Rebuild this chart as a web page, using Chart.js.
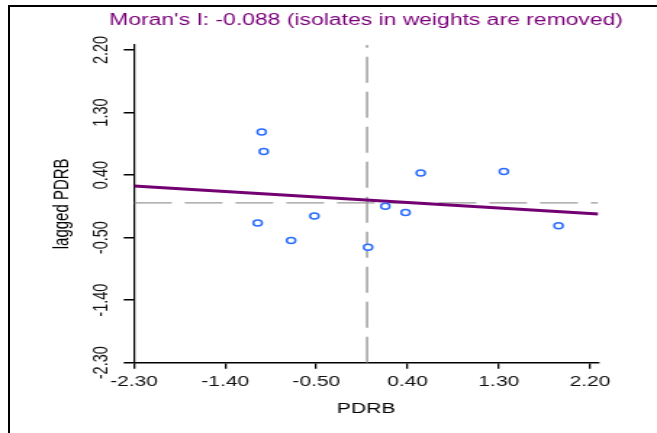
<!DOCTYPE html>
<html>
<head>
<meta charset="utf-8">
<script src="https://cdn.jsdelivr.net/npm/chart.js@4.4.1/dist/chart.umd.min.js"></script>
<style>
html,body{margin:0;padding:0;background:#fff;overflow:hidden;width:657px;height:433px;}
#frame{position:absolute;left:8px;top:5px;width:660px;height:440px;border-left:2px solid #000;border-top:2px solid #000;}
#c{position:absolute;left:0;top:0;width:657px;height:433px;}
</style>
</head>
<body>
<div id="frame"></div>
<canvas id="c" width="453" height="433" style="width:657px;height:433px"></canvas>
<script>
// ---- data (standardized PDRB vs. spatially lagged PDRB) ----
const moranI = -0.088;
const lagIntercept = 0.04;
const pdrb       = [-1.04, -1.02, -1.08, -0.75, -0.52, 0.01, 0.18, 0.38, 0.53, 1.35, 1.89];
const laggedPdrb = [ 1.02,  0.74, -0.29, -0.54, -0.19, -0.64, -0.05, -0.14, 0.43, 0.45, -0.33];
const xTicks = [-2.3, -1.4, -0.5, 0.4, 1.3, 2.2];
const yTicks = [-2.3, -1.4, -0.5, 0.4, 1.3, 2.2];
const xRange = [-2.3, 2.282];
const yRange = [-2.3, 2.272];
const meanPdrb = 0;
const meanLag = 0;
const xLabel = 'PDRB';
const yLabel = 'lagged PDRB';
const titleText = "Moran's I: " + moranI.toFixed(3) + " (isolates in weights are removed)";

const FONT = '"Liberation Sans", Arial, sans-serif';

const points = pdrb.map((x, i) => ({x: x, y: laggedPdrb[i]}));
const fitLine = xRange.map(x => ({x: x, y: lagIntercept + moranI * x}));
const hMean = xRange.map(x => ({x: x, y: meanLag}));
const vMean = yRange.map(y => ({x: meanPdrb, y: y}));

const titlePlugin = {
  id: 'moranTitle',
  afterDraw(chart) {
    const {ctx, chartArea} = chart;
    ctx.save();
    ctx.font = '15.8px ' + FONT;
    ctx.fillStyle = '#7a007a';
    ctx.textAlign = 'center';
    ctx.textBaseline = 'middle';
    ctx.fillText(titleText, (chartArea.left + chartArea.right) / 2, 20.8);
    ctx.restore();
  }
};

new Chart(document.getElementById('c'), {
  type: 'scatter',
  data: {
    datasets: [
      {
        type: 'scatter', data: points, order: 0,
        pointStyle: 'circle', pointRadius: 3, pointHoverRadius: 3,
        borderColor: '#2a6cff', backgroundColor: '#ffffff', borderWidth: 1.5
      },
      {
        type: 'line', data: fitLine, order: 1,
        borderColor: '#720072', borderWidth: 3, pointRadius: 0, fill: false, tension: 0
      },
      {
        type: 'line', data: vMean, order: 2,
        borderColor: '#999999', borderWidth: 1.4, borderDash: [26, 9], pointRadius: 0, fill: false
      },
      {
        type: 'line', data: hMean, order: 3,
        borderColor: '#999999', borderWidth: 1.4, borderDash: [26, 9], pointRadius: 0, fill: false
      }
    ]
  },
  options: {
    responsive: false,
    devicePixelRatio: 1,
    animation: false,
    events: [],
    layout: { padding: { top: 45, right: 40.5, bottom: 0, left: 0 } },
    plugins: { legend: { display: false }, tooltip: { enabled: false }, title: { display: false } },
    scales: {
      x: {
        type: 'linear', min: xRange[0], max: xRange[1],
        afterBuildTicks: s => { s.ticks = xTicks.map(v => ({value: v})); },
        afterFit: s => { s.height = 70.3; },
        grid: { display: true, drawOnChartArea: false, drawTicks: true, tickLength: 6, color: '#000', lineWidth: 1.3 },
        border: { display: true, color: '#000', width: 1.6 },
        ticks: { autoSkip: false, maxRotation: 0, minRotation: 0, padding: 4.8, color: '#111',
                 font: { family: FONT, size: 14.5 }, callback: v => Number(v).toFixed(2) },
        title: { display: true, text: xLabel, color: '#000', font: { family: FONT, size: 14.5 },
                 padding: { top: 0, bottom: 15.3 } }
      },
      y: {
        type: 'linear', min: yRange[0], max: yRange[1],
        afterBuildTicks: s => { s.ticks = yTicks.map(v => ({value: v})); },
        afterFit: s => { s.width = 92.4; },
        grid: { display: true, drawOnChartArea: false, drawTicks: true, tickLength: 7.1, color: '#000', lineWidth: 1.5 },
        border: { display: true, color: '#000', width: 1.2 },
        ticks: { autoSkip: false, minRotation: 90, maxRotation: 90, crossAlign: 'center', padding: -1.3,
                 color: '#111', font: { family: FONT, size: 14.5 }, callback: v => Number(v).toFixed(2) },
        title: { display: true, text: yLabel, color: '#000', font: { family: FONT, size: 15 },
                 padding: { top: 34.1, bottom: 0 } }
      }
    }
  },
  plugins: [titlePlugin]
});
</script>
</body>
</html>
